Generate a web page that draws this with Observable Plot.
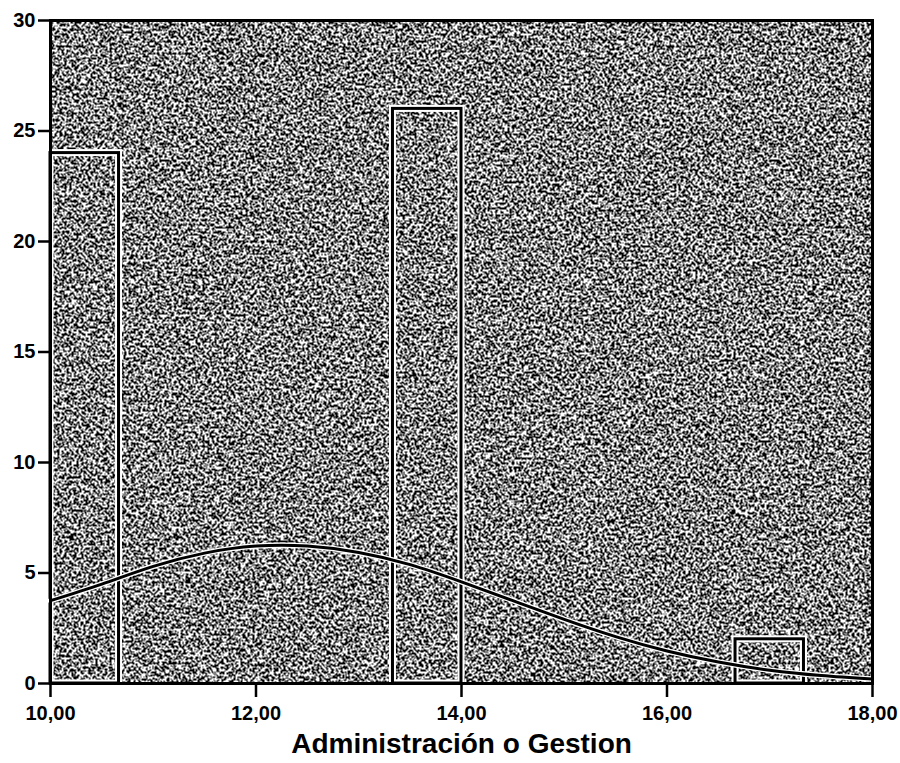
<!DOCTYPE html>
<html>
<head>
<meta charset="utf-8">
<script src="https://cdn.jsdelivr.net/npm/d3@7"></script>
<script src="https://cdn.jsdelivr.net/npm/@observablehq/plot@0.6"></script>
<style>
  html, body { margin: 0; padding: 0; background: #fff; }
</style>
</head>
<body>
<div id="chart"></div>
<script>
// Histogram bins (Administración o Gestion)
const binStart = [10.0, 13.333, 16.667];
const binEnd   = [10.667, 14.0, 17.333];
const counts   = [24, 26, 2];

// Normal curve, points
const curveX = [10, 10.5, 11, 11.5, 12, 12.5, 13, 13.5, 14, 14.5, 15, 15.5, 16, 16.5, 17, 17.5, 18];
const curveY = [3.75, 4.5, 5.3, 5.9, 6.22, 6.22, 5.93, 5.38, 4.6, 3.75, 2.9, 2.12, 1.47, 0.97, 0.6, 0.36, 0.2];

// Tick labels
const xTicks = [10, 12, 14, 16, 18];
const yTicks = [0, 5, 10, 15, 20, 25, 30];
const xLabel = "Administración o Gestion";

const bins = binStart.map((s, i) => ({x1: s, x2: binEnd[i], count: counts[i]}));
const curve = curveX.map((x, i) => ({x, y: curveY[i]}));

const chart = Plot.plot({
  width: 900,
  height: 763,
  marginLeft: 50,
  marginRight: 28,
  marginTop: 20,
  marginBottom: 80,
  style: {fontFamily: "'Liberation Sans', Arial, sans-serif", fontSize: "20px", color: "#000", background: "#fff"},
  x: {domain: [10, 18]},
  y: {domain: [0, 30]},
  marks: [
    Plot.frame({fill: "url(#speckle)"}),
    Plot.rectY(bins, {x1: "x1", x2: "x2", y1: 0, y2: "count", fill: "none", stroke: "#fff", strokeWidth: 7}),
    Plot.rectY(bins, {x1: "x1", x2: "x2", y1: 0, y2: "count", fill: "none", stroke: "#000", strokeWidth: 3}),
    Plot.line(curve, {x: "x", y: "y", curve: "natural", stroke: "#fff", strokeWidth: 5.5}),
    Plot.line(curve, {x: "x", y: "y", curve: "natural", stroke: "#000", strokeWidth: 3}),
    Plot.axisY({ticks: yTicks, tickSize: 12, tickPadding: 3, strokeWidth: 2.5, label: null}),
    Plot.axisX({ticks: xTicks, tickSize: 14, tickPadding: 8, strokeWidth: 2.5, label: null,
      tickFormat: d => d.toFixed(2).replace(".", ",")}),
    Plot.text([xLabel], {frameAnchor: "bottom", dy: 69, fontSize: 28, fontWeight: "bold", fill: "#000"}),
    Plot.frame({stroke: "#000", strokeWidth: 3})
  ]
});

const svg = d3.select(chart);
svg.selectAll('g[aria-label$="tick label"]')
  .attr("font-size", 20)
  .attr("font-weight", "bold")
  .style("font-size", "20px");

svg.insert("defs", ":first-child").html(`
  <filter id="noiseFilter" x="0" y="0" width="1" height="1" color-interpolation-filters="sRGB">
    <feTurbulence type="fractalNoise" baseFrequency="0.42" numOctaves="2" seed="7" result="t"/>
    <feColorMatrix in="t" type="matrix" values="1 0 0 0 0  1 0 0 0 0  1 0 0 0 0  0 0 0 0 1" result="g"/>
    <feComponentTransfer in="g">
      <feFuncR type="discrete" tableValues="0 1"/>
      <feFuncG type="discrete" tableValues="0 1"/>
      <feFuncB type="discrete" tableValues="0 1"/>
    </feComponentTransfer>
  </filter>
  <pattern id="speckle" patternUnits="userSpaceOnUse" x="0" y="0" width="900" height="763">
    <rect x="0" y="0" width="900" height="763" fill="#fff" filter="url(#noiseFilter)"/>
  </pattern>
`);

document.getElementById("chart").appendChild(chart);
</script>
</body>
</html>
